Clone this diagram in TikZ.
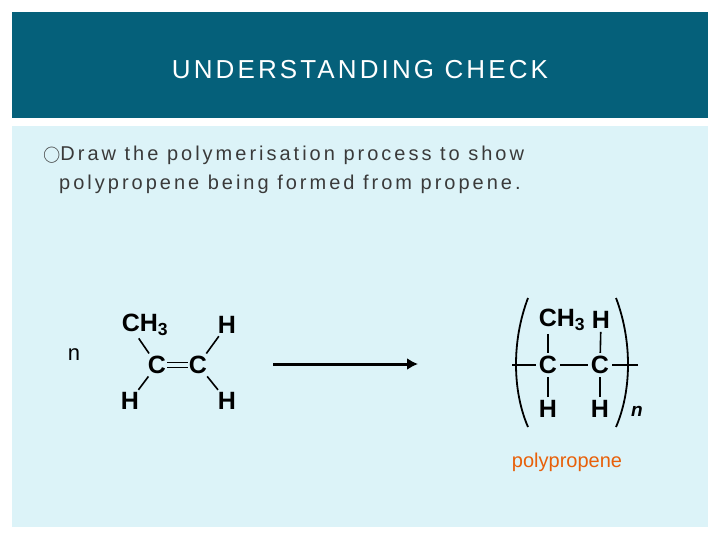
\documentclass[tikz,border=0pt]{standalone}
\usepackage{fontspec}
\setmainfont{Liberation Sans}
\newfontfamily\spaced[LetterSpace=15]{Liberation Sans}
\newfontfamily\wide[LetterSpace=12]{Liberation Sans}
\usetikzlibrary{arrows.meta, positioning}
\definecolor{headblue}{HTML}{05607A}
\definecolor{paleblue}{HTML}{DCF3F8}
\definecolor{textgray}{HTML}{3A3A3A}
\definecolor{polyorange}{HTML}{E8600A}
\tikzset{
  atom/.style={font=\bfseries\fontsize{25}{25}\selectfont, inner sep=0pt},
  bond/.style={line width=1.6pt, shorten >=3pt, shorten <=3pt},
}
\begin{document}
\begin{tikzpicture}[x=1pt, y=-1pt]
    \useasboundingbox (0,0) rectangle (720,540);
    % panels
    \fill[headblue] (12,12) rectangle (708,118);
    \fill[paleblue] (12,126) rectangle (708,527);
    \node[text=white, font=\wide\fontsize{26}{26}\selectfont] (title) at (360,70) {UNDERSTANDING CHECK};
    \node[anchor=west, text=textgray, font=\spaced\fontsize{20}{20}\selectfont, align=left, inner sep=0pt] (task) at (43,170)
      {\raisebox{1pt}{\fontsize{16}{16}\selectfont$\bigcirc$}Draw the polymerisation process to show\\[9pt]\hspace*{16pt}polypropene being formed from propene.};

    % propene
    \node[font=\fontsize{22}{22}\selectfont] (n1) at (74,355) {n};
    \node[atom] (ch3a) at (145,325) {CH\textsubscript{3}};
    \node[atom] (ha) at (227,325) {H};
    \node[atom] (ca) at (157,365) {C};
    \node[atom] (cb) at (198,365) {C};
    \node[atom] (hb) at (130,401) {H};
    \node[atom] (hc) at (227,401) {H};
    \draw[bond] (ch3a.south) ++(-8,0) coordinate (s1) (s1) -- (ca);
    \draw[bond] (ha) -- (cb);
    \draw[bond] (hb) -- (ca);
    \draw[bond] (hc) -- (cb);
    \draw[line width=1.4pt] ([yshift=-2.5pt,xshift=1pt]ca.east) -- ([yshift=-2.5pt,xshift=-1pt]cb.west);
    \draw[line width=1.4pt] ([yshift=2.5pt,xshift=1pt]ca.east) -- ([yshift=2.5pt,xshift=-1pt]cb.west);

    % arrow
    \coordinate (arrS) at (273,364);
    \coordinate (arrE) at (418,364);
    \draw[line width=3pt, -{Latex[length=11pt,width=12pt]}] (arrS) -- (arrE);

    % polypropene
    \node[atom] (ch3b) at (562,320) {CH\textsubscript{3}};
    \node[atom] (hd) at (601,320) {H};
    \node[atom] (cc) at (548,365) {C};
    \node[atom] (cd) at (600,365) {C};
    \node[atom] (he) at (548,409) {H};
    \node[atom] (hf) at (600,409) {H};
    \coordinate (endL) at (512,365);
    \coordinate (endR) at (638,365);
    \draw[bond, shorten <=0pt] (endL) -- (cc);
    \draw[bond] (cc) -- (cd);
    \draw[bond, shorten <=0pt] (endR) -- (cd);
    \draw[bond] (cc |- ch3b.south) -- (cc);
    \draw[bond] (hd) -- (cd);
    \draw[bond] (he) -- (cc);
    \draw[bond] (hf) -- (cd);
    \draw[line width=1.8pt] (528,298) .. controls (512,340) and (512,390) .. (528,427);
    \draw[line width=1.8pt] (616,298) .. controls (632,340) and (632,390) .. (616,427);
    \node[font=\bfseries\itshape\fontsize{19}{19}\selectfont] (n2) at (637,411) {n};
    \node[text=polyorange, font=\fontsize{20}{20}\selectfont] (label) at (567,462) {polypropene};
\end{tikzpicture}
\end{document}
